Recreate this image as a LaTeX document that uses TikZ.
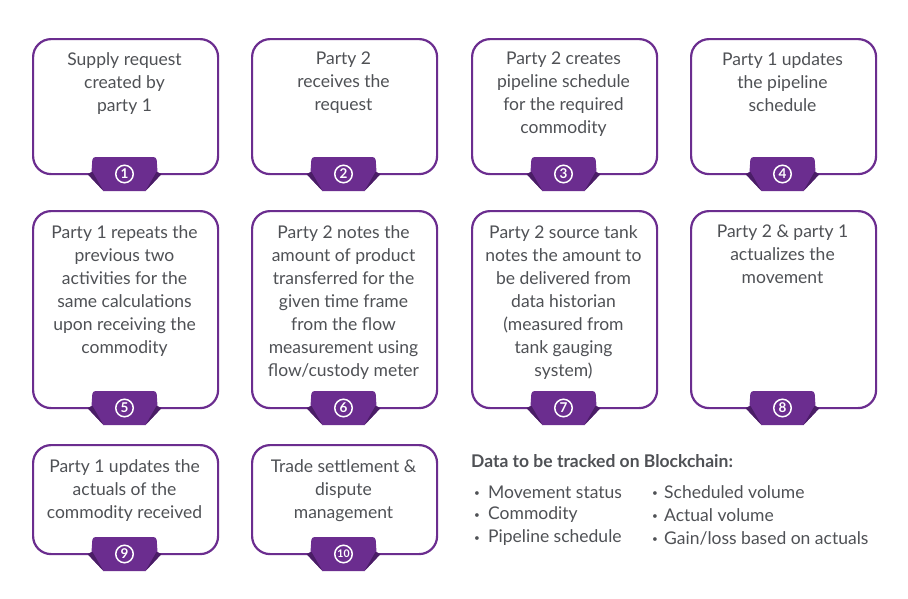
\documentclass[tikz,border=0pt]{standalone}
\usepackage{fontspec}
\setmainfont{Lato}
\definecolor{purp}{HTML}{6B2D8F}
\definecolor{purpdark}{HTML}{4A1D66}
\definecolor{txt}{HTML}{4F5155}
\newcommand\bul[1]{\makebox[#1][l]{\hspace{3pt}\raisebox{1.5pt}{\fontsize{10}{10}\selectfont •}}}
\begin{document}
\begin{tikzpicture}[x=1pt,y=-1pt,
  box/.style={draw=purp, line width=2.2pt, rounded corners=18pt, minimum width=185pt, anchor=north west, inner sep=0pt, fill=white},
  lbl/.style={anchor=north, align=center, text=txt, font=\fontsize{17.5}{23}\selectfont, inner sep=0pt},
  num/.style={circle, draw=white, line width=1.5pt, text=white, font=\bfseries\fontsize{13.5}{13.5}\selectfont, minimum size=17.5pt, inner sep=0pt},
  head/.style={anchor=west, text=txt, font=\bfseries\fontsize{17.5}{18}\selectfont, inner sep=0pt},
  item/.style={anchor=west, text=txt, font=\fontsize{17.5}{18}\selectfont, inner sep=0pt}]
\useasboundingbox (0,0) rectangle (908,598);
\fill[white] (0,0) rectangle (908,598);
% boxes
\node[box, minimum height=135pt] (b1) at (32,38) {};
\node[box, minimum height=135pt] (b2) at (251,38) {};
\node[box, minimum height=135pt] (b3) at (471,38) {};
\node[box, minimum height=135pt] (b4) at (690,38) {};
\node[box, minimum height=197pt] (b5) at (32,210) {};
\node[box, minimum height=197pt] (b6) at (251,210) {};
\node[box, minimum height=197pt] (b7) at (471,210) {};
\node[box, minimum height=197pt] (b8) at (690,210) {};
\node[box, minimum height=109pt] (b9) at (32,444) {};
\node[box, minimum height=109pt] (b10) at (251,444) {};
% texts
\node[lbl] (t1) at (124.5,52) {Supply request\\created by\\party 1};
\node[lbl] (t2) at (343.5,52) {Party 2\\receives the\\request};
\node[lbl] (t3) at (563.5,52) {Party 2 creates\\pipeline schedule\\for the required\\commodity};
\node[lbl] (t4) at (782.5,52) {Party 1 updates\\the pipeline\\schedule};
\node[lbl] (t5) at (124.5,225) {Party 1 repeats the\\previous two\\activities for the\\same calculations\\upon receiving the\\commodity};
\node[lbl] (t6) at (343.5,225) {Party 2 notes the\\amount of product\\transferred for the\\given time frame\\from the flow\\measurement using\\flow/custody meter};
\node[lbl] (t7) at (563.5,225) {Party 2 source tank\\notes the amount to\\be delivered from\\data historian\\(measured from\\tank gauging\\system)};
\node[lbl] (t8) at (782.5,225) {Party 2 \& party 1\\actualizes the\\movement};
\node[lbl] (t9) at (124.5,459) {Party 1 updates the\\actuals of the\\commodity received};
\node[lbl] (t10) at (343.5,459) {Trade settlement \&\\dispute\\management};
% tabs
\foreach \n/\cx/\by in {1/124.5/173, 2/343.5/173, 3/563.5/173, 4/782.5/173,
                        5/124.5/407, 6/343.5/407, 7/563.5/407, 8/782.5/407,
                        9/124.5/553, 10/343.5/553} {
  \begin{scope}[shift={(\cx,\by)}]
    \fill[purp] (-33,-1) [rounded corners=3pt]-- (-32,-16) -- (32,-16) [sharp corners]-- (33,-1) -- (37,1) -- (21,18) -- (-21,18) -- (-37,1) -- cycle;
    \fill[purpdark] (-37,1) -- (-32,-1) -- (-21,18) -- cycle;
    \fill[purpdark] (37,1) -- (32,-1) -- (21,18) -- cycle;
    \node[num] (n\n) at (0,1) {\ifnum\n>9 \fontsize{10.5}{10.5}\selectfont\n\else\n\fi};
  \end{scope}
}
% data list
\node[head] (h) at (471,461) {Data to be tracked on Blockchain:};
\node[item] (d1) at (471,492) {\bul{17pt}Movement status};
\node[item] (d2) at (471,515) {\bul{17pt}Commodity};
\node[item] (d3) at (471,538) {\bul{17pt}Pipeline schedule};
\node[item] (d4) at (649,492) {\bul{15pt}Scheduled volume};
\node[item] (d5) at (649,515) {\bul{15pt}Actual volume};
\node[item] (d6) at (649,538) {\bul{15pt}Gain/loss based on actuals};
\end{tikzpicture}
\end{document}
